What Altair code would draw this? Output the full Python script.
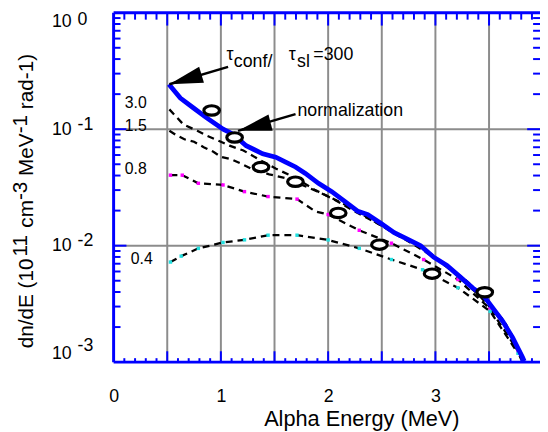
import altair as alt
import pandas as pd

W, H = 432, 354
X_MAX = 3.975
FONT = "Liberation Sans"
BLUE = "#0000ff"
GRID = "#8c8c8c"

# ---------------- data ----------------
blue_E = [0.515, 0.622, 0.745, 0.868, 1.021, 1.113, 1.236, 1.39, 1.512, 1.604, 1.696, 1.788,
          1.91, 2.034, 2.155, 2.278, 2.37, 2.494, 2.616, 2.739, 2.862, 2.984, 3.107, 3.23,
          3.352, 3.444, 3.536, 3.628, 3.72, 3.812, 3.828]
blue_v = [0.243, 0.185, 0.152, 0.125, 0.100, 0.0907, 0.0722, 0.0615, 0.0575, 0.0522, 0.0474, 0.0417,
          0.0343, 0.0291, 0.0240, 0.0197, 0.0185, 0.0155, 0.01295, 0.01138, 0.00998, 0.00796, 0.00676, 0.0054,
          0.0043, 0.00377, 0.00291, 0.00224, 0.00162, 0.0011, 0.00102]

a_E = [0.52, 0.65, 0.78, 0.87, 1.0, 1.08, 1.21, 1.37, 1.51, 1.70, 1.88, 2.06, 2.25, 2.49, 2.7,
       2.9, 3.1, 3.3, 3.5, 3.65, 3.8]
a_v = [0.148, 0.110, 0.0968, 0.0878, 0.078, 0.0722, 0.0656, 0.054, 0.046, 0.038, 0.030, 0.0248,
       0.0196, 0.0150, 0.0118, 0.0093, 0.0068, 0.0049, 0.0032, 0.0022, 0.00105]

b_E = [0.52, 0.58, 0.66, 0.75, 0.84, 0.93, 1.0, 1.1, 1.2, 1.3, 1.45, 1.6, 1.8, 2.0, 2.2, 2.4,
       2.6, 2.8, 3.0, 3.2, 3.4, 3.55, 3.7, 3.8]
b_v = [0.097, 0.0895, 0.082, 0.078, 0.070, 0.064, 0.058, 0.055, 0.050, 0.045, 0.041, 0.038,
       0.032, 0.0265, 0.0215, 0.0168, 0.0130, 0.0102, 0.0078, 0.0056, 0.0038, 0.0027, 0.0018, 0.0011]

c_E = [0.53, 0.64, 0.79, 1.02, 1.22, 1.44, 1.71, 1.88, 2.0, 2.29, 2.59, 2.89, 3.21, 3.51, 3.77]
c_v = [0.0403, 0.0403, 0.0343, 0.0332, 0.0291, 0.0264, 0.0251, 0.0197, 0.0185, 0.01355, 0.0105,
       0.0076, 0.00512, 0.00287, 0.00125]

d_E = [0.53, 0.63, 0.79, 0.9, 1.02, 1.22, 1.44, 1.71, 2.0, 2.29, 2.59, 2.88, 3.21, 3.51, 3.77]
d_v = [0.00723, 0.00813, 0.00948, 0.0100, 0.01066, 0.01122, 0.0123, 0.0123, 0.0112, 0.00948,
       0.0076, 0.00622, 0.00435, 0.00273, 0.00119]

mag_E = [0.53, 0.64, 0.79, 1.02, 1.22, 1.44, 1.71, 2.0, 2.29, 2.59, 2.89, 3.21, 3.51, 3.77]
mag_v = [0.0403, 0.0403, 0.0343, 0.0332, 0.0291, 0.0264, 0.0251, 0.0185, 0.01355, 0.0105,
         0.0076, 0.00512, 0.00287, 0.00125]
cyan_E = [0.53, 0.63, 0.79, 1.02, 1.22, 1.44, 1.71, 2.0, 2.29, 2.59, 2.88, 3.21, 3.51, 3.77]
cyan_v = [0.00723, 0.00813, 0.00948, 0.01066, 0.01122, 0.0123, 0.0123, 0.0112, 0.00948, 0.0076,
          0.00622, 0.00435, 0.00273, 0.00119]

circ_E = [0.914, 1.128, 1.374, 1.695, 2.094, 2.478, 2.969, 3.46]
circ_v = [0.1448, 0.0849, 0.0473, 0.0354, 0.0191, 0.0102, 0.00575, 0.00398]

x_labels = [0, 1, 2, 3]
y_labels = [0.001, 0.01, 0.1, 1.0]
x_grid = [0.5, 1.0, 1.5, 2.0, 2.5, 3.0, 3.5]
y_grid = [0.01, 0.1]
x_minor = [round(0.1 * i, 1) for i in range(1, 40) if i % 5 != 0]
y_minor = [k * 10.0 ** e for e in (-3, -2, -1) for k in range(2, 10)]

curve_names = ["3.0", "1.5", "0.8", "0.4"]
curve_label_E = [0.104, 0.104, 0.104, 0.16]
curve_label_v = [0.1514, 0.0967, 0.0411, 0.00699]

# annotation anchors (data coords)
ann_text = ["\u03c4", "conf/", "\u03c4", "sl", "=300", "normalization"]
ann_E = [1.052, 1.121, 1.632, 1.71, 1.862, 1.714]
ann_v = [0.393, 0.343, 0.393, 0.343, 0.393, 0.1295]
arrow_tail_E = [1.067, 1.696]
arrow_tail_v = [0.343, 0.1346]
arrow_tip_E = [0.52, 1.16]
arrow_tip_v = [0.243, 0.0968]
arrow_angle = [163.4, 165.7]

# ---------------- scales / axes ----------------
xs = alt.Scale(domain=[0, X_MAX], nice=False, zero=False)
ys = alt.Scale(type="log", domain=[1e-3, 1.0], nice=False)

x_axis = alt.Axis(values=x_labels, format="d", orient="bottom", labelFontSize=18, labelFont=FONT,
                  labelColor="black", labelPadding=26, labelFlush=False, ticks=False, tickSize=0,
                  domain=False, grid=False, labelOverlap=False,
                  title="Alpha Energy (MeV)", titleFont=FONT, titleFontSize=22, titleFontWeight="normal",
                  titleColor="black", titleX=251, titleY=64, titleBaseline="alphabetic", titleAlign="center")
y_axis10 = alt.Axis(values=y_labels, labelExpr="'10'", orient="left", labelFlush=True, labelOverlap=False,
                    labelPadding=43, ticks=False, tickSize=0, domain=False, grid=False, title=None,
                    labelFontSize=18, labelFont=FONT, labelColor="black")
y_axisexp = alt.Axis(values=y_labels, labelExpr="'' + round(log(datum.value) / LN10)", orient="left",
                     labelAlign="left", labelFlush=True, labelFlushOffset=-3, labelOverlap=False,
                     labelPadding=37, labelOffset=-5, ticks=False, tickSize=0, domain=False, grid=False,
                     title=None, labelFontSize=18, labelFont=FONT, labelColor="black")


def X(field="E", axis=None):
    return alt.X(f"{field}:Q", scale=xs, axis=axis)


def Y(field="v", axis=None):
    return alt.Y(f"{field}:Q", scale=ys, axis=axis)


layers = []

# grid
layers.append(alt.Chart(pd.DataFrame({"t": x_grid})).mark_rule(color=GRID, strokeWidth=2)
              .encode(x=X("t"), y=alt.value(0), y2=alt.value(H)))
layers.append(alt.Chart(pd.DataFrame({"t": y_grid})).mark_rule(color=GRID, strokeWidth=2)
              .encode(y=Y("t"), x=alt.value(0), x2=alt.value(W)))

# dashed curves (carry the x axis and the "10" part of the y labels)
curves = pd.concat([
    pd.DataFrame({"E": a_E, "v": a_v, "s": "3.0"}),
    pd.DataFrame({"E": b_E, "v": b_v, "s": "1.5"}),
    pd.DataFrame({"E": c_E, "v": c_v, "s": "0.8"}),
    pd.DataFrame({"E": d_E, "v": d_v, "s": "0.4"}),
])
layers.append(alt.Chart(curves).mark_line(color="black", strokeWidth=2.3, strokeDash=[7, 5], clip=True)
              .encode(x=X("E", x_axis), y=Y("v", y_axis10), detail="s:N"))

layers.append(alt.Chart(pd.DataFrame({"E": mag_E, "v": mag_v})).mark_square(color="#ff00ff", size=12, opacity=1)
              .encode(x=X(), y=Y()))
layers.append(alt.Chart(pd.DataFrame({"E": cyan_E, "v": cyan_v})).mark_square(color="#22e0e0", size=12, opacity=1)
              .encode(x=X(), y=Y()))

# blue curve
layers.append(alt.Chart(pd.DataFrame({"E": blue_E, "v": blue_v})).mark_line(color=BLUE, strokeWidth=4.8, clip=True)
              .encode(x=X(), y=Y()))

# arrows
arr = pd.DataFrame({"x1": arrow_tail_E, "y1": arrow_tail_v, "x2": arrow_tip_E, "y2": arrow_tip_v})
layers.append(alt.Chart(arr).mark_rule(color="black", strokeWidth=2.5)
              .encode(x=X("x1"), y=Y("y1"), x2="x2:Q", y2="y2:Q"))
for i in range(len(arrow_angle)):
    layers.append(alt.Chart(pd.DataFrame({"E": [arrow_tip_E[i]], "v": [arrow_tip_v[i]]}))
                  .mark_point(shape="M0,0L-2,-0.5L-2,0.5Z", filled=True, color="black", size=1156,
                              opacity=1, angle=arrow_angle[i])
                  .encode(x=X(), y=Y()))

# open circles (carry the exponent part of the y labels)
layers.append(alt.Chart(pd.DataFrame({"E": circ_E, "v": circ_v}))
              .mark_point(shape="M-1,0A1,0.6 0 1,0 1,0A1,0.6 0 1,0 -1,0Z", filled=False, fill="white",
                          fillOpacity=1, stroke="black", strokeWidth=3.2, size=250, opacity=1)
              .encode(x=X(), y=Y("v", y_axisexp)))

# curve labels
layers.append(alt.Chart(pd.DataFrame({"E": curve_label_E, "v": curve_label_v, "t": curve_names}))
              .mark_text(align="left", baseline="alphabetic", fontSize=16, font=FONT, color="black")
              .encode(x=X(), y=Y(), text="t:N"))

# annotation texts
layers.append(alt.Chart(pd.DataFrame({"E": ann_E, "v": ann_v, "t": ann_text}))
              .mark_text(align="left", baseline="alphabetic", fontSize=18, font=FONT, color="black")
              .encode(x=X(), y=Y(), text="t:N"))

# y title with raised exponents
AW = {'d': 556, 'n': 556, '/': 278, 'E': 667, ' ': 278, '(': 333, '1': 556, '0': 556, 'c': 500,
      'm': 833, '-': 333, '3': 556, 'M': 833, 'e': 556, 'V': 667, 'r': 333, 'a': 556, ')': 333}
TFS = 21
segs = [("dn/dE (10", False, 0.0), ("11", True, 2.0), ("cm", False, 5.8), ("-3", True, 0.0),
        ("MeV", False, 5.8), ("-1", True, 0.0), ("rad-1)", False, 5.8)]
pos = 340.0
for txt, sup, gap in segs:
    pos -= gap
    layers.append(alt.Chart(pd.DataFrame({"t": [txt]}))
                  .mark_text(angle=270, align="left", baseline="alphabetic", fontSize=TFS, font=FONT,
                             color="black")
                  .encode(x=alt.value(-88 if sup else -82), y=alt.value(pos), text="t:N"))
    pos -= sum(AW[ch] for ch in txt) * TFS / 1000

# frame (left, top, bottom)
layers.append(alt.Chart(pd.DataFrame({"k": [0]})).mark_rule(color=BLUE, strokeWidth=3)
              .encode(x=alt.value(0), y=alt.value(0), y2=alt.value(H)))
layers.append(alt.Chart(pd.DataFrame({"k": [0]})).mark_rule(color=BLUE, strokeWidth=3)
              .encode(y=alt.value(0), x=alt.value(0), x2=alt.value(W)))
layers.append(alt.Chart(pd.DataFrame({"k": [0]})).mark_rule(color=BLUE, strokeWidth=3)
              .encode(y=alt.value(H), x=alt.value(0), x2=alt.value(W)))


# inward ticks
def xticks(vals, y0, y1):
    return (alt.Chart(pd.DataFrame({"t": vals})).mark_rule(color=BLUE, strokeWidth=2)
            .encode(x=X("t"), y=alt.value(y0), y2=alt.value(y1)))


def yticks(vals, x0, x1):
    return (alt.Chart(pd.DataFrame({"t": vals})).mark_rule(color=BLUE, strokeWidth=2)
            .encode(y=Y("t"), x=alt.value(x0), x2=alt.value(x1)))


layers += [xticks(x_grid, H, H - 11), xticks(x_minor, H, H - 4),
           xticks(x_grid, 0, 13), xticks(x_minor, 0, 7),
           yticks(y_grid, 0, 13), yticks(y_minor, 0, 7),
           yticks(y_grid, W, W - 13), yticks(y_minor, W, W - 7)]

chart = (alt.layer(*layers)
         .resolve_axis(x="independent", y="independent")
         .properties(width=W, height=H, autosize=alt.AutoSizeParams(type="none"),
                     padding={"left": 107, "top": 2, "right": 0, "bottom": 68})
         .configure_view(stroke=None))

chart.save("out.html", embed_options={"renderer": "svg", "actions": False})
